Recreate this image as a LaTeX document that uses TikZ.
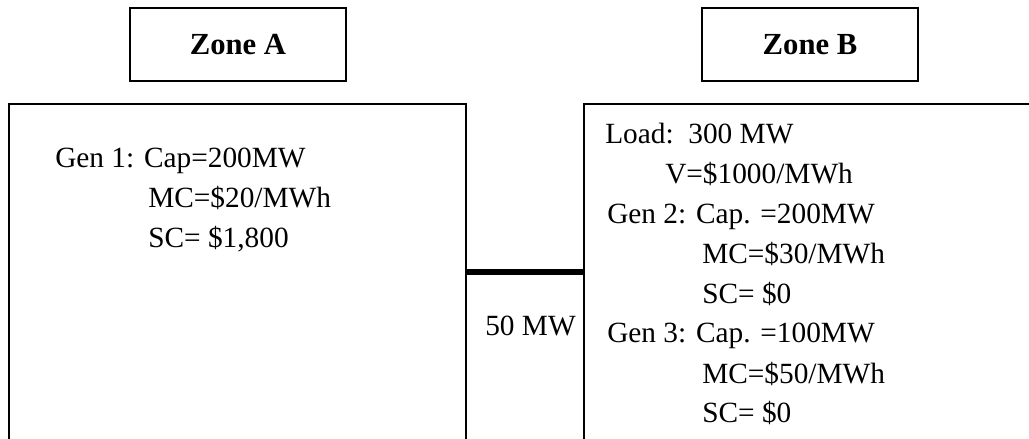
\documentclass[tikz,border=0pt]{standalone}
\usepackage{fontspec}
\setmainfont{Liberation Serif}
\usetikzlibrary{positioning}

\begin{document}
\begin{tikzpicture}[
  x=0.75pt, y=-0.75pt,
  zonebox/.style={
    draw, line width=1.5pt,
    minimum width=162pt, minimum height=54.5pt,
    font=\fontsize{23}{27}\selectfont\bfseries
  },
  areabox/.style={
    draw, line width=1.5pt, inner sep=0pt,
    minimum height=282pt
  },
  tie/.style={line width=5pt},
  info/.style={
    anchor=base west, inner sep=0pt,
    font=\fontsize{22}{26}\selectfont
  },
]
\useasboundingbox (0,0) rectangle (1029,439);
\clip (0,0) rectangle (1029,439);

% zone titles
\node[zonebox] (zoneA) at (238,44.5) {Zone A};
\node[zonebox] (zoneB) at (810,44.5) {Zone B};

% zone areas, bottom runs off the page
\node[areabox, minimum width=342.75pt] (areaA) at (237.5,292) {};
\node[areabox, minimum width=357pt] (areaB) at (822,292) {};

% tie line between the zones
\coordinate (tieY) at (0,272);
\draw[tie] (areaA.east |- tieY) -- (areaB.west |- tieY);
\node[info] (flow) at (485,335) {50 MW};

% zone A data
\node[info] (gen1) at (55,167) {Gen 1: Cap=200MW};
\node[info] (gen1mc) at (148,207) {MC=\$20/MWh};
\node[info] (gen1sc) at (148,247) {SC= \$1,800};

% zone B data
\node[info] (load) at (605,143) {Load:\ \ 300 MW};
\node[info] (loadv) at (665,183) {V=\$1000/MWh};
\node[info] (gen2) at (607,223) {Gen 2: Cap. =200MW};
\node[info] (gen2mc) at (702,263) {MC=\$30/MWh};
\node[info] (gen2sc) at (702,303) {SC= \$0};
\node[info] (gen3) at (607,342) {Gen 3: Cap. =100MW};
\node[info] (gen3mc) at (702,383) {MC=\$50/MWh};
\node[info] (gen3sc) at (702,422) {SC= \$0};

\end{tikzpicture}
\end{document}
